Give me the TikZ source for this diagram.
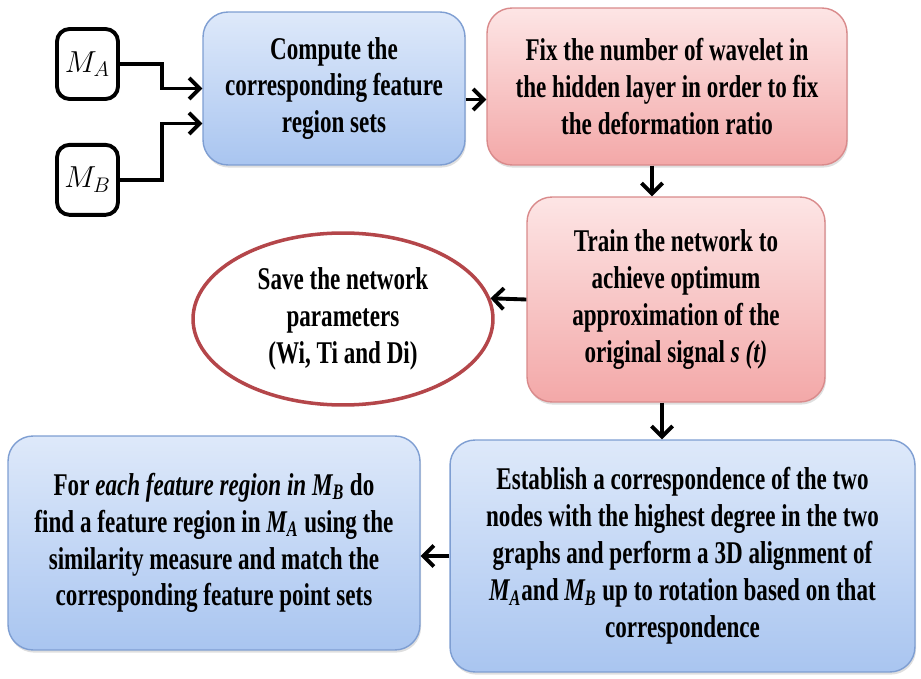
\documentclass[tikz,border=0pt]{standalone}
\usepackage{fontspec}
\setmainfont{Liberation Serif}[FakeStretch=0.73]
\usetikzlibrary{arrows.meta, positioning, shapes.geometric, shadows}
\definecolor{bluetop}{HTML}{DEE9FA}
\definecolor{bluebot}{HTML}{A9C5F0}
\definecolor{blueline}{HTML}{7E9ED2}
\definecolor{pinktop}{HTML}{FDE5E5}
\definecolor{pinkbot}{HTML}{F3A8A8}
\definecolor{pinkline}{HTML}{D98A8B}
\definecolor{ovalline}{HTML}{B4464A}
\newcommand{\Mset}[1]{\textit{M\textsubscript{#1}}}
\tikzset{
  stepbase/.style={rounded corners=0.5cm, align=center, line width=0.8pt,
    font=\fontsize{18}{21}\selectfont\bfseries,
    drop shadow={opacity=0.25, shadow xshift=0.6pt, shadow yshift=-1.5pt}},
  bluebox/.style={stepbase, draw=blueline, top color=bluetop, bottom color=bluebot},
  pinkbox/.style={stepbase, draw=pinkline, top color=pinktop, bottom color=pinkbot},
  inbox/.style={draw, rounded corners=0.25cm, line width=2.2pt,
    minimum width=1.22cm, minimum height=1.4cm, font=\fontsize{16.5}{20}\selectfont},
  arr/.style={-{Straight Barb[length=6pt, width=12pt]}, line width=2.2pt},
}
\begin{document}
\begin{tikzpicture}[x=0.02cm, y=-0.02cm]
\useasboundingbox (0,0) rectangle (921,679);
% inputs
\node[inbox] (ma) at (87.5,64) {$M_A$};
\node[inbox, below=0.84cm of ma] (mb) {$M_B$};
% steps
\node[bluebox, minimum width=5.24cm, minimum height=3.06cm] (compute) at (334,88.5)
  {Compute the\\corresponding feature\\region sets};
\node[pinkbox, minimum width=7.2cm, minimum height=3.14cm] (fix) at (667,86.5)
  {Fix the number of wavelet in\\the hidden layer in order to fix\\the deformation ratio};
\node[pinkbox, minimum width=5.96cm, minimum height=4.1cm] (train) at (676,299.5)
  {Train the network to\\achieve optimum\\approximation of the\\original signal \textit{s (t)}};
\node[ellipse, draw=ovalline, line width=2pt, fill=white, inner sep=0pt,
  minimum width=6cm, minimum height=3.44cm, align=center,
  font=\fontsize{18}{21}\selectfont\bfseries] (save) at (343,319)
  {Save the network\\parameters\\(Wi, Ti and Di)};
\node[bluebox, minimum width=8.24cm, minimum height=4.28cm] (match) at (214,543)
  {For \textit{each feature region in} \Mset{B} do\\find a feature region in \Mset{A} using the\\similarity measure and match the\\corresponding feature point sets};
\node[bluebox, minimum width=9.3cm, minimum height=4.64cm] (align) at (682.5,556)
  {Establish a correspondence of the two\\nodes with the highest degree in the two\\graphs and perform a 3D alignment of\\\Mset{A}and \Mset{B} up to rotation based on that\\correspondence};
% connectors
\draw[arr] (ma.east) -- ++(0.84cm,0) |- (compute.west);
\draw[arr] (mb.east) -- ++(0.84cm,0) |- ([yshift=-0.7cm]compute.west);
\draw[arr] ([yshift=-0.22cm]compute.east) -- ([yshift=-0.22cm]compute.east -| fix.west);
\draw[arr] ([xshift=-0.3cm]fix.south) -- ([xshift=-0.3cm]fix.south |- train.north);
\draw[arr] (train.west) -- (save.8);
\draw[arr] ([xshift=-0.28cm]train.south) -- ([xshift=-0.28cm]train.south |- align.north);
\draw[arr] (align.west) -- (align.west -| match.east);
\end{tikzpicture}
\end{document}
